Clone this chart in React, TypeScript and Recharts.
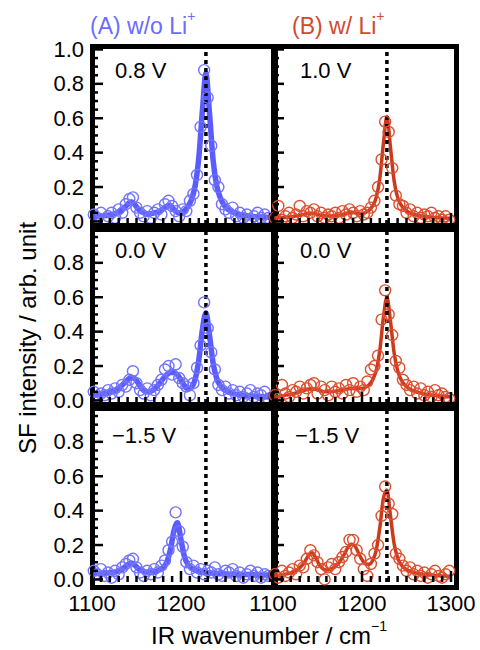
import React from 'react';
import { ComposedChart, Line, Scatter, XAxis, YAxis, ReferenceLine } from 'recharts';

// wavenumber grid of the fitted curves and of the measured points
const FIT_X = [
  1100, 1104, 1108, 1112, 1116, 1120, 1124, 1128, 1132, 1136, 1140, 1144, 1148, 1152, 1156, 1160, 1164,
  1168, 1172, 1176, 1180, 1184, 1188, 1192, 1196, 1200, 1204, 1208, 1212, 1216, 1220, 1224, 1228, 1232,
  1236, 1240, 1244, 1248, 1252, 1256, 1260, 1264, 1268, 1272, 1276, 1280, 1284, 1288, 1292, 1296, 1300,
];
const PT_X = [
  1102, 1106, 1110, 1114, 1118, 1122, 1126, 1130, 1134, 1138, 1142, 1146, 1150, 1154, 1158, 1162, 1166,
  1170, 1174, 1178, 1182, 1186, 1190, 1194, 1198, 1202, 1206, 1210, 1214, 1218, 1222, 1226, 1230, 1234,
  1238, 1242, 1246, 1250, 1254, 1258, 1262, 1266, 1270, 1274, 1278, 1282, 1286, 1290, 1294, 1298,
];

// (A) w/o Li+, 0.8 V
const A1_FIT = [
  0.03, 0.03, 0.03, 0.032, 0.034, 0.037, 0.042, 0.05, 0.06, 0.077, 0.1, 0.115, 0.098, 0.072, 0.055, 0.047,
  0.045, 0.047, 0.052, 0.06, 0.072, 0.088, 0.092, 0.07, 0.052, 0.05, 0.062, 0.088, 0.13, 0.21, 0.37, 0.64,
  0.86, 0.63, 0.36, 0.21, 0.14, 0.098, 0.074, 0.06, 0.05, 0.043, 0.038, 0.034, 0.031, 0.029, 0.027, 0.026,
  0.025, 0.024, 0.023,
];
const A1_PTS = [
  0.04, 0.02, 0.05, 0.01, 0.03, 0.05, 0.02, 0.07, 0.05, 0.1, 0.13, 0.14, 0.08, 0.05, 0.03, 0.06, 0.02,
  0.05, 0.07, 0.04, 0.1, 0.12, 0.09, 0.06, 0.03, 0.07, 0.06, 0.12, 0.16, 0.27, 0.55, 0.88, 0.72, 0.44,
  0.24, 0.2, 0.1, 0.07, 0.05, 0.08, 0.03, 0.05, 0.02, 0.04, 0.01, 0.03, 0.05, 0.02, 0.04, 0.02,
];
// (A) 0.0 V
const A2_FIT = [
  0.03, 0.032, 0.035, 0.038, 0.042, 0.047, 0.054, 0.064, 0.08, 0.1, 0.12, 0.133, 0.128, 0.1, 0.068, 0.052,
  0.05, 0.058, 0.075, 0.1, 0.128, 0.15, 0.162, 0.163, 0.148, 0.118, 0.085, 0.065, 0.078, 0.125, 0.235, 0.41,
  0.51, 0.38, 0.22, 0.13, 0.088, 0.065, 0.052, 0.044, 0.038, 0.034, 0.031, 0.029, 0.027, 0.025, 0.024,
  0.023, 0.022, 0.021, 0.02,
];
const A2_PTS = [
  0.05, 0.02, 0.04, 0.03, 0.06, 0.04, 0.07, 0.05, 0.09, 0.08, 0.12, 0.17, 0.1, 0.06, 0.04, 0.07, 0.03,
  0.06, 0.09, 0.12, 0.18, 0.2, 0.15, 0.21, 0.13, 0.1, 0.08, 0.03, 0.1, 0.19, 0.32, 0.57, 0.42, 0.28,
  0.18, 0.09, 0.06, 0.08, 0.04, 0.06, 0.03, 0.05, 0.02, 0.04, 0.06, 0.02, 0.04, 0.03, 0.05, 0.01,
];
// (A) -1.5 V
const A3_FIT = [
  0.035, 0.035, 0.035, 0.036, 0.037, 0.039, 0.042, 0.047, 0.055, 0.068, 0.085, 0.095, 0.083, 0.062, 0.05,
  0.044, 0.042, 0.043, 0.047, 0.055, 0.07, 0.1, 0.17, 0.28, 0.33, 0.23, 0.13, 0.085, 0.064, 0.053, 0.047,
  0.043, 0.04, 0.038, 0.036, 0.034, 0.033, 0.032, 0.031, 0.03, 0.03, 0.029, 0.029, 0.028, 0.028, 0.027,
  0.027, 0.026, 0.026, 0.025, 0.025,
];
const A3_PTS = [
  0.05, 0.03, 0.06, 0.02, 0.04, 0.01, 0.05, 0.03, 0.07, 0.09, 0.11, 0.12, 0.07, 0.04, 0.02, 0.05, 0.03,
  0.06, 0.04, 0.08, 0.11, 0.17, 0.22, 0.39, 0.28, 0.19, 0.1, 0.06, 0.08, 0.04, 0.06, 0.03, 0.05, 0.04,
  0.07, 0.03, 0.02, 0.05, 0.04, 0.06, 0.02, 0.04, 0.01, 0.03, 0.05, 0.02, 0.04, 0.01, 0.03, 0.02,
];
// (B) w/ Li+, 1.0 V
const B1_FIT = [
  0.02, 0.021, 0.022, 0.023, 0.025, 0.027, 0.03, 0.033, 0.037, 0.042, 0.047, 0.048, 0.044, 0.038, 0.034,
  0.032, 0.032, 0.033, 0.035, 0.038, 0.043, 0.05, 0.055, 0.05, 0.045, 0.045, 0.052, 0.065, 0.09, 0.14,
  0.25, 0.45, 0.61, 0.43, 0.24, 0.14, 0.095, 0.07, 0.055, 0.045, 0.039, 0.034, 0.031, 0.028, 0.026, 0.024,
  0.022, 0.021, 0.02, 0.019, 0.018,
];
const B1_PTS = [
  0.02, 0.09, 0.01, 0.03, 0.05, 0.02, 0.04, 0.09, 0.03, 0.06, 0.05, 0.07, 0.03, 0.05, 0.02, 0.04, 0.03,
  0.05, 0.02, 0.06, 0.04, 0.07, 0.05, 0.03, 0.06, 0.04, 0.05, 0.08, 0.12, 0.2, 0.36, 0.58, 0.52, 0.31,
  0.15, 0.1, 0.09, 0.05, 0.07, 0.03, 0.05, 0.02, 0.04, 0.03, 0.05, 0.02, 0.03, 0.01, 0.03, 0.01,
];
// (B) 0.0 V
const B2_FIT = [
  0.02, 0.022, 0.025, 0.028, 0.032, 0.036, 0.041, 0.047, 0.053, 0.06, 0.066, 0.068, 0.064, 0.057, 0.052,
  0.05, 0.05, 0.052, 0.055, 0.058, 0.062, 0.067, 0.07, 0.07, 0.069, 0.07, 0.077, 0.092, 0.12, 0.175, 0.29,
  0.48, 0.6, 0.46, 0.28, 0.175, 0.12, 0.09, 0.072, 0.06, 0.052, 0.045, 0.04, 0.036, 0.033, 0.03, 0.028,
  0.026, 0.024, 0.022, 0.021,
];
const B2_PTS = [
  0.03, 0.01, 0.09, 0.04, 0.02, 0.06, 0.05, 0.08, 0.04, 0.07, 0.09, 0.1, 0.04, 0.08, 0.06, 0.03, 0.08,
  0.05, 0.07, 0.04, 0.09, 0.06, 0.1, 0.05, 0.08, 0.06, 0.11, 0.18, 0.2, 0.26, 0.47, 0.64, 0.5, 0.38,
  0.23, 0.19, 0.12, 0.09, 0.06, 0.08, 0.04, 0.07, 0.03, 0.05, 0.02, 0.06, 0.03, 0.04, 0.02, 0.01,
];
// (B) -1.5 V
const B3_FIT = [
  0.02, 0.022, 0.025, 0.028, 0.032, 0.038, 0.046, 0.058, 0.078, 0.105, 0.14, 0.155, 0.125, 0.085, 0.062,
  0.055, 0.058, 0.068, 0.085, 0.11, 0.145, 0.185, 0.205, 0.195, 0.155, 0.115, 0.09, 0.088, 0.11, 0.17, 0.3,
  0.47, 0.52, 0.37, 0.21, 0.125, 0.085, 0.064, 0.052, 0.044, 0.038, 0.034, 0.031, 0.028, 0.026, 0.024,
  0.022, 0.021, 0.02, 0.019, 0.018,
];
const B3_PTS = [
  0.03, 0.01, 0.05, 0.02, 0.04, 0.06, 0.03, 0.08, 0.07, 0.12, 0.17, 0.14, 0.1, 0.06, 0.0, 0.07, 0.09,
  0.06, 0.1, 0.13, 0.16, 0.23, 0.23, 0.17, 0.12, 0.06, 0.02, 0.09, 0.15, 0.2, 0.37, 0.54, 0.44, 0.38,
  0.15, 0.12, 0.08, 0.05, 0.07, 0.03, 0.05, 0.02, 0.04, 0.01, 0.03, 0.05, 0.02, 0.01, 0.03, 0.05,
];

const PEAK_X = 1228;
const X_TICKS = [
  1100, 1110, 1120, 1130, 1140, 1150, 1160, 1170, 1180, 1190, 1200, 1210, 1220, 1230, 1240, 1250, 1260,
  1270, 1280, 1290, 1300,
];
const Y_TICKS = [
  0, 0.05, 0.1, 0.15, 0.2, 0.25, 0.3, 0.35, 0.4, 0.45, 0.5, 0.55, 0.6, 0.65, 0.7, 0.75, 0.8, 0.85, 0.9,
  0.95, 1.0,
];

const FONT = '"Liberation Sans", Arial, Helvetica, sans-serif';
const BLUE = { line: '#5a5cff', dot: '#7173ff', text: '#6a6cff', width: 5.5 };
const RED = { line: '#cc3a1c', dot: '#dc4f30', text: '#d14a2e', width: 3.5 };

const PW = 178;
const PH = 178;
const COL_LEFT = [92, 273];
const ROW_TOP = [46, 225, 404];
// axes get 1px each (a 0px axis is not drawn), so the margins are 1px smaller
const M = { top: 10, right: 28, bottom: 44, left: 59 };

const toPairs = (xs: number[], ys: number[]) => xs.map((x, i) => ({ x, y: ys[i] }));

function YTick(props: any) {
  const { x, y, payload, labels } = props;
  const v = payload.value;
  const major = Math.abs(v * 5 - Math.round(v * 5)) < 1e-6;
  const showText = major && labels && (labels === 'all' || v < 0.99);
  return (
    <g>
      <line x1={x} x2={x + (major ? 11 : 6)} y1={y} y2={y} stroke="#000" strokeWidth={2.5} />
      {showText && (
        <text x={x - 8} y={y} textAnchor="end" dominantBaseline="central" fontSize={22} fontFamily={FONT} fill="#000">
          {v.toFixed(1)}
        </text>
      )}
    </g>
  );
}

function XTick(props: any) {
  const { x, y, payload, labels } = props;
  const v = payload.value;
  const major = v % 100 === 0;
  return (
    <g>
      <line x1={x} x2={x} y1={y} y2={y - (major ? 11 : 6)} stroke="#000" strokeWidth={2.5} />
      {labels && labels.includes(v) && (
        <text x={x} y={y + 29} textAnchor="middle" fontSize={22} fontFamily={FONT} fill="#000">
          {v}
        </text>
      )}
    </g>
  );
}

function Panel({ col, row, fit, pts, c, yLabels, xLabels }: any) {
  const left = COL_LEFT[col];
  const top = ROW_TOP[row];
  const fitData = toPairs(FIT_X, fit);
  const ptData = toPairs(PT_X, pts);
  return (
    <>
      <div
        style={{
          position: 'absolute',
          left: left - 2.5,
          top: top - 2.5,
          width: PW,
          height: PH,
          border: '5px solid #000',
        }}
      />
      <div style={{ position: 'absolute', left: left - M.left - 1, top: top - M.top }}>
        <ComposedChart width={PW + M.left + 1 + M.right} height={PH + M.top + M.bottom + 1} margin={M}>
          <XAxis
            type="number"
            dataKey="x"
            domain={[1100, 1300]}
            ticks={X_TICKS}
            interval={0}
            height={1}
            tickSize={0}
            tickMargin={0}
            axisLine={false}
            tickLine={false}
            tick={(p: any) => <XTick {...p} labels={xLabels} />}
          />
          <YAxis
            type="number"
            domain={[-0.015, 1.02]}
            ticks={Y_TICKS}
            interval={0}
            width={1}
            tickSize={0}
            tickMargin={0}
            axisLine={false}
            tickLine={false}
            tick={(p: any) => <YTick {...p} labels={yLabels} />}
          />
          <Scatter
            data={ptData}
            dataKey="y"
            isAnimationActive={false}
            shape={(p: any) => (
              <circle cx={p.cx} cy={p.cy} r={5.5} fill="none" stroke={c.dot} strokeWidth={1.4} />
            )}
          />
          <Line
            data={fitData}
            dataKey="y"
            type="monotone"
            stroke={c.line}
            strokeWidth={c.width}
            dot={false}
            isAnimationActive={false}
          />
          <ReferenceLine x={PEAK_X} stroke="#000" strokeWidth={3.5} strokeDasharray="4 4" />
        </ComposedChart>
      </div>
    </>
  );
}

export default function App() {
  return (
    <div
      style={{
        position: 'absolute',
        left: 0,
        top: 0,
        width: 480,
        height: 650,
        background: '#fff',
        overflow: 'hidden',
      }}
    >
      <Panel col={0} row={0} fit={A1_FIT} pts={A1_PTS} c={BLUE} yLabels="all" />
      <Panel col={0} row={1} fit={A2_FIT} pts={A2_PTS} c={BLUE} yLabels="low" />
      <Panel col={0} row={2} fit={A3_FIT} pts={A3_PTS} c={BLUE} yLabels="low" xLabels={[1100, 1200]} />
      <Panel col={1} row={0} fit={B1_FIT} pts={B1_PTS} c={RED} />
      <Panel col={1} row={1} fit={B2_FIT} pts={B2_PTS} c={RED} />
      <Panel col={1} row={2} fit={B3_FIT} pts={B3_PTS} c={RED} xLabels={[1100, 1200, 1300]} />
      <svg
        width={480}
        height={650}
        style={{ position: 'absolute', left: 0, top: 0, pointerEvents: 'none' }}
        fontFamily={FONT}
      >
        <text x={90} y={34} fontSize={23} fill={BLUE.text}>
          (A) w/o Li<tspan fontSize={14} dy={-13}>+</tspan>
        </text>
        <text x={292} y={34} fontSize={23} fill={RED.text}>
          (B) w/ Li<tspan fontSize={14} dy={-13}>+</tspan>
        </text>
        <g fontSize={22} fill="#000">
          <text x={115} y={78}>0.8 V</text>
          <text x={300} y={78}>1.0 V</text>
          <text x={115} y={258}>0.0 V</text>
          <text x={300} y={258}>0.0 V</text>
          <text x={112} y={443}>−1.5 V</text>
          <text x={295} y={443}>−1.5 V</text>
        </g>
        <text x={36} y={338} fontSize={24} textAnchor="middle" transform="rotate(-90 36 338)" fill="#000">
          SF intensity / arb. unit
        </text>
        <text x={151} y={644} fontSize={24} fill="#000">
          IR wavenumber / cm<tspan fontSize={14} dy={-13}>−1</tspan>
        </text>
      </svg>
    </div>
  );
}
